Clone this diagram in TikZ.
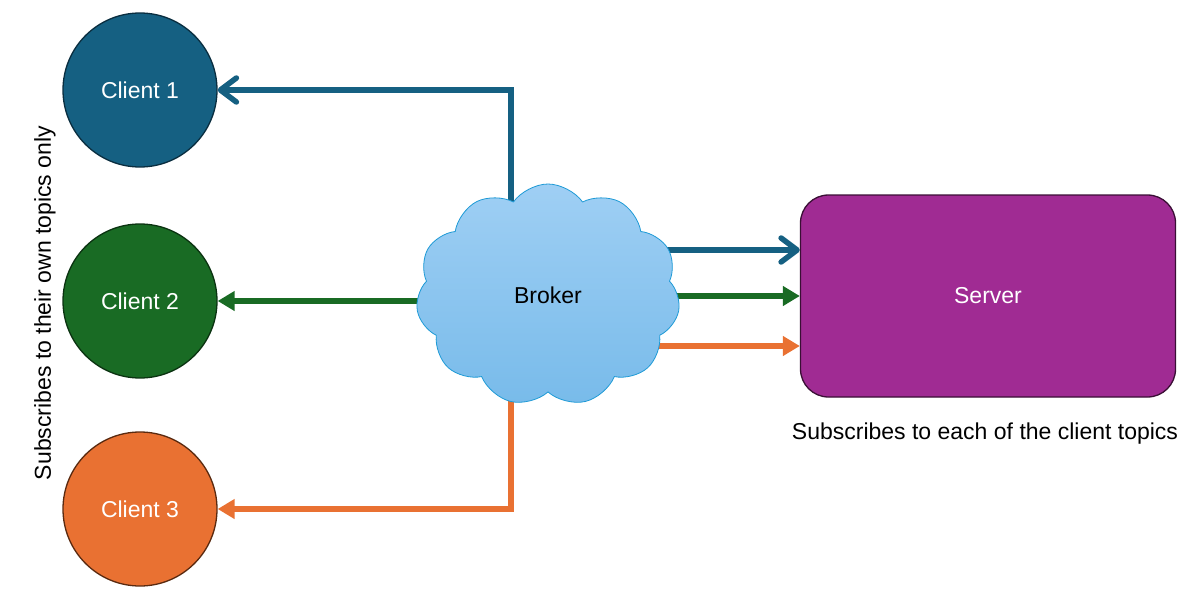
\documentclass[tikz,border=0pt]{standalone}
\usepackage{fontspec}
\setmainfont{Liberation Sans}
\usetikzlibrary{arrows.meta,shapes.symbols,calc,backgrounds}
\definecolor{cblue}{HTML}{156082}
\definecolor{cblueedge}{HTML}{0A2E40}
\definecolor{cgreen}{HTML}{196B24}
\definecolor{cgreenedge}{HTML}{0B3311}
\definecolor{corange}{HTML}{E97132}
\definecolor{corangeedge}{HTML}{5A2A10}
\definecolor{cpurple}{HTML}{A02B93}
\definecolor{cpurpleedge}{HTML}{3A0F35}
\definecolor{cloudtop}{HTML}{9FCFF4}
\definecolor{cloudbot}{HTML}{78BBEA}
\definecolor{cloudedge}{HTML}{1E9AD6}
\begin{document}
\begin{tikzpicture}[x=1pt,y=-1pt,
  font=\fontsize{23}{27}\selectfont,
  client/.style={circle, minimum size=154pt, inner sep=0pt, line width=1.3pt, text=white},
  conn/.style={line width=5.5pt},
  openhead/.style={-{Straight Barb[length=16pt,width=24pt,round]}},
  solidhead/.style={-{Triangle[length=17pt,width=19pt]}}]
\useasboundingbox (0,0) rectangle (1201,594);
\node[client, fill=cblue, draw=cblueedge] (c1) at (140,90) {Client 1};
\node[client, fill=cgreen, draw=cgreenedge] (c2) at (140,301) {Client 2};
\node[client, fill=corange, draw=corangeedge] (c3) at (140,509) {Client 3};
\node[rectangle, rounded corners=28pt, minimum width=375pt, minimum height=202pt,
  fill=cpurple, draw=cpurpleedge, line width=1.3pt, text=white] (server) at (988,296) {Server};
\node[cloud, cloud puffs=11, cloud puff arc=110, aspect=1.2,
  minimum width=264pt, minimum height=222pt, inner sep=0pt,
  draw=cloudedge, line width=0.8pt, top color=cloudtop, bottom color=cloudbot] (broker) at (548,295) {Broker};
\node[rotate=90] (lbl1) at (45,303) {Subscribes to their own topics only};
\node (lbl2) at (985,434) {Subscribes to each of the client topics};
\coordinate (bv) at ($(broker.center)+(-37,0)$);
\coordinate (b1) at ($(broker.center)+(0,-45)$);
\coordinate (b2) at ($(broker.center)+(0,1)$);
\coordinate (b3) at ($(broker.center)+(0,51)$);
\begin{scope}[on background layer]
\draw[conn, cblue, openhead] (bv) |- (c1);
\draw[conn, cgreen, solidhead] (broker.center |- c2) -- (c2);
\draw[conn, corange, solidhead] (bv) |- (c3);
\draw[conn, cblue, openhead] (b1) -- (b1 -| server.west);
\draw[conn, cgreen, solidhead] (b2) -- (b2 -| server.west);
\draw[conn, corange, solidhead] (b3) -- (b3 -| server.west);
\end{scope}
\end{tikzpicture}
\end{document}
